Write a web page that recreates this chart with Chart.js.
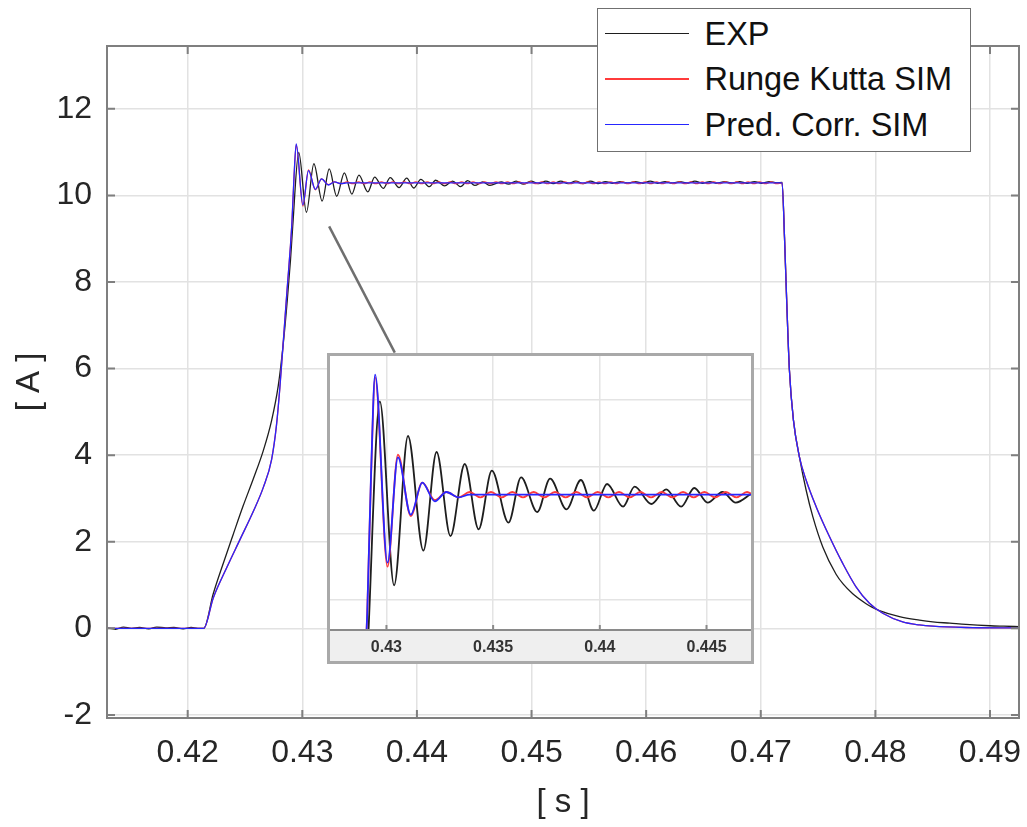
<!DOCTYPE html>
<html>
<head>
<meta charset="utf-8">
<title>Current step response</title>
<script src="https://cdn.jsdelivr.net/npm/chart.js@4.4.1/dist/chart.umd.min.js"></script>
<style>
  body { margin: 0; background: #fff; }
  #wrap { position: relative; width: 1027px; height: 827px; overflow: hidden; }
  #mainChart { position: absolute; left: 0; top: 0; }
  #legend {
    position: absolute; left: 597px; top: 8px; width: 374px; height: 144px;
    box-sizing: border-box; border: 1.5px solid #707070; background: #fff;
    font-family: "Liberation Sans", Arial, Helvetica, sans-serif; font-size: 32.5px; color: #111;
  }
  .row { position: absolute; left: 0; width: 100%; height: 38px; line-height: 38px; }
  .swatch { position: absolute; left: 6.5px; top: 18px; width: 84px; height: 1.5px; }
  .row span { position: absolute; left: 106.5px; top: 0; white-space: nowrap; }
  #inset {
    position: absolute; left: 327px; top: 353px; width: 427px; height: 311px;
    box-sizing: border-box; border: 3px solid #a9a9a9; background: #fff;
  }
  #insetChart { display: block; }
</style>
</head>
<body>
<div id="wrap">
  <canvas id="mainChart" width="1027" height="827"></canvas>
  <div id="legend"></div>
  <div id="inset"><canvas id="insetChart" width="421" height="305"></canvas></div>
</div>
<script>
// measured current, time in s, current in A
const expT = [
  0.41296, 0.4137, 0.4144, 0.4151, 0.4158, 0.4166, 0.4173, 0.4181, 0.4188, 0.4196, 0.4203, 0.4209, 0.4214,
  0.42223, 0.42310, 0.42397, 0.42484, 0.42572, 0.42659, 0.42732, 0.42790, 0.42833, 0.42868, 0.42897, 0.42916,
  0.42969, 0.43036, 0.43101, 0.43173, 0.43235, 0.43300, 0.43367, 0.43432, 0.43494, 0.43572,
  0.43631, 0.43707, 0.43767, 0.43844, 0.43911, 0.43972, 0.44034, 0.44109, 0.44163, 0.44241,
  0.44311, 0.44381, 0.44443, 0.44505, 0.44575, 0.44637,
  0.44735, 0.44800, 0.44865, 0.44930, 0.44995, 0.45060, 0.45125, 0.45190, 0.45255, 0.45320,
  0.45385, 0.45450, 0.45515, 0.45580, 0.45645, 0.45710, 0.45775, 0.45840, 0.45905, 0.45970,
  0.46035, 0.46100, 0.46165, 0.46230, 0.46295, 0.46360, 0.46425, 0.46490, 0.46555, 0.46620,
  0.46685, 0.46750, 0.46815, 0.46880, 0.46945, 0.47010, 0.47075, 0.47140, 0.47186,
  0.47207, 0.47227, 0.47250, 0.47285, 0.47337, 0.47396, 0.47454, 0.47541, 0.47657, 0.47720,
  0.47802, 0.47919, 0.47970, 0.48035, 0.48210, 0.48384, 0.48500, 0.48650, 0.48790, 0.49000,
  0.49120, 0.49253
];
const expI = [
  0.01, -0.02, 0.03, 0.00, 0.02, -0.01, 0.03, 0.01, 0.02, -0.01, 0.02, 0.00, 0.00,
  0.80, 1.50, 2.17, 2.83, 3.45, 4.10, 4.80, 5.60, 6.55, 7.55, 8.51, 9.27,
  10.99, 9.61, 10.73, 9.87, 10.61, 9.98, 10.52, 10.03, 10.47, 10.08,
  10.42, 10.16, 10.41, 10.18, 10.40, 10.17, 10.37, 10.20, 10.35, 10.22,
  10.33, 10.20, 10.34, 10.23, 10.31, 10.23,
  10.31, 10.26, 10.33, 10.26, 10.33, 10.27, 10.33, 10.27, 10.33, 10.27,
  10.33, 10.27, 10.33, 10.27, 10.32, 10.28, 10.32, 10.28, 10.32, 10.28,
  10.33, 10.28, 10.32, 10.28, 10.32, 10.28, 10.33, 10.28, 10.32, 10.28,
  10.32, 10.28, 10.32, 10.28, 10.32, 10.28, 10.32, 10.29, 10.30,
  9.04, 7.50, 5.96, 4.81, 3.96, 3.19, 2.58, 1.88, 1.25, 1.02,
  0.80, 0.57, 0.49, 0.41, 0.27, 0.19, 0.15, 0.12, 0.09, 0.06,
  0.05, 0.04
];

// Runge Kutta simulation
const rkT = [
  0.41296, 0.4214, 0.42223, 0.42340, 0.42456, 0.42572, 0.42659, 0.42732, 0.42775, 0.42804,
  0.42839, 0.42868, 0.42897, 0.42910, 0.42928, 0.42947, 0.43005, 0.43054, 0.43114, 0.43168,
  0.43227, 0.43281, 0.43339,
  0.43390, 0.43440, 0.43490, 0.43540, 0.43590, 0.43640, 0.43690, 0.43740, 0.43790, 0.43840,
  0.43890, 0.43940, 0.43990, 0.44040, 0.44090, 0.44140, 0.44190, 0.44240, 0.44290, 0.44340,
  0.44390, 0.44440, 0.44490, 0.44540, 0.44590, 0.44640, 0.44690, 0.44740, 0.44790, 0.44840,
  0.44890, 0.44940, 0.44990, 0.45040, 0.45090, 0.45140, 0.45190, 0.45240, 0.45290, 0.45340,
  0.45390, 0.45440, 0.45490, 0.45540, 0.45590, 0.45640, 0.45690, 0.45740, 0.45790, 0.45840,
  0.45890, 0.45940, 0.45990, 0.46040, 0.46090, 0.46140, 0.46190, 0.46240, 0.46290, 0.46340,
  0.46390, 0.46440, 0.46490, 0.46540, 0.46590, 0.46640, 0.46690, 0.46740, 0.46790, 0.46840,
  0.46890, 0.46940, 0.46990, 0.47040, 0.47090, 0.47140, 0.47186,
  0.47207, 0.47227, 0.47250, 0.47285, 0.47337, 0.47396, 0.47483, 0.47599, 0.47715, 0.47831,
  0.47948, 0.48064, 0.48238, 0.48384, 0.48500, 0.48790, 0.49253
];
const rkI = [
  0, 0, 0.70, 1.40, 2.05, 2.70, 3.25, 3.90, 4.70, 5.55,
  6.80, 7.85, 8.85, 9.40, 10.43, 11.17, 9.75, 10.59, 10.13, 10.38,
  10.25, 10.31, 10.27,
  10.31, 10.27, 10.31, 10.27, 10.31, 10.27, 10.31, 10.27, 10.31, 10.27,
  10.31, 10.27, 10.31, 10.27, 10.31, 10.27, 10.31, 10.27, 10.31, 10.27,
  10.31, 10.27, 10.31, 10.27, 10.31, 10.27, 10.31, 10.27, 10.31, 10.27,
  10.31, 10.27, 10.31, 10.27, 10.31, 10.27, 10.31, 10.27, 10.31, 10.27,
  10.31, 10.27, 10.31, 10.27, 10.31, 10.27, 10.31, 10.27, 10.31, 10.27,
  10.31, 10.27, 10.31, 10.27, 10.31, 10.27, 10.31, 10.27, 10.31, 10.27,
  10.31, 10.27, 10.31, 10.27, 10.31, 10.27, 10.31, 10.27, 10.31, 10.27,
  10.31, 10.27, 10.31, 10.27, 10.31, 10.27, 10.29,
  9.04, 7.50, 5.96, 4.81, 3.96, 3.42, 2.81, 2.12, 1.50, 0.96,
  0.58, 0.35, 0.15, 0.08, 0.05, 0.02, 0.01
];

// Predictor-corrector simulation
const pcT = [
  0.41296, 0.4214, 0.42223, 0.42340, 0.42456, 0.42572, 0.42659, 0.42732, 0.42775, 0.42804,
  0.42839, 0.42868, 0.42897, 0.42910, 0.42928, 0.42947, 0.43005, 0.43054, 0.43114, 0.43168,
  0.43227, 0.43281, 0.43339, 0.43390, 0.47186,
  0.47207, 0.47227, 0.47250, 0.47285, 0.47337, 0.47396, 0.47483, 0.47599, 0.47715, 0.47831,
  0.47948, 0.48064, 0.48238, 0.48384, 0.48500, 0.48790, 0.49253
];
const pcI = [
  0, 0, 0.70, 1.40, 2.05, 2.70, 3.25, 3.90, 4.70, 5.55,
  6.80, 7.85, 8.85, 9.40, 10.45, 11.19, 9.78, 10.57, 10.14, 10.38,
  10.24, 10.31, 10.27, 10.29, 10.29,
  9.04, 7.50, 5.96, 4.81, 3.96, 3.42, 2.81, 2.12, 1.50, 0.96,
  0.58, 0.35, 0.15, 0.08, 0.05, 0.02, 0.01
];

// pointer from the overshoot to the zoom box
const connT = [0.43234, 0.43807];
const connI = [9.285, 6.37];

const seriesNames = ["EXP", "Runge Kutta SIM", "Pred. Corr. SIM"];
const seriesColors = ["#1e1e1e", "#ff3b3b", "#2626ff"];

const xTicks = [0.42, 0.43, 0.44, 0.45, 0.46, 0.47, 0.48, 0.49];
const yTicks = [-2, 0, 2, 4, 6, 8, 10, 12];
const insetXTicks = [0.43, 0.435, 0.44, 0.445];
const insetYGrid = [9.5, 10, 10.5, 11];

const FONT = "'Liberation Sans', Arial, Helvetica, sans-serif";
Chart.defaults.font.family = FONT;

function pts(t, v) {
  return t.map((x, i) => ({ x: x, y: v[i] }));
}

function makeDatasets(width) {
  const series = [[expT, expI], [rkT, rkI], [pcT, pcI]];
  return series.map((s, i) => ({
    label: seriesNames[i],
    data: pts(s[0], s[1]),
    borderColor: seriesColors[i],
    borderWidth: width,
    pointRadius: 0,
    cubicInterpolationMode: "monotone",
    order: 3 - i
  }));
}

// box and inward tick marks, like the original plot
const axisFrame = {
  id: "axisFrame",
  afterDatasetsDraw(chart) {
    const { ctx, chartArea: a, scales } = chart;
    ctx.save();
    ctx.strokeStyle = "#7f7f7f";
    ctx.lineWidth = 2;
    ctx.strokeRect(a.left, a.top, a.right - a.left, a.bottom - a.top);
    ctx.beginPath();
    xTicks.forEach(v => {
      const px = scales.x.getPixelForValue(v);
      ctx.moveTo(px, a.bottom); ctx.lineTo(px, a.bottom - 8);
      ctx.moveTo(px, a.top); ctx.lineTo(px, a.top + 8);
    });
    yTicks.forEach(v => {
      const py = scales.y.getPixelForValue(v);
      ctx.moveTo(a.left, py); ctx.lineTo(a.left + 8, py);
      ctx.moveTo(a.right, py); ctx.lineTo(a.right - 8, py);
    });
    ctx.stroke();
    ctx.restore();
  }
};

const mainDatasets = makeDatasets(1.3);
mainDatasets.push({
  label: "pointer",
  data: pts(connT, connI),
  borderColor: "#6f6f6f",
  borderWidth: 2.5,
  pointRadius: 0,
  order: 5
});

new Chart(document.getElementById("mainChart"), {
  type: "line",
  data: { datasets: mainDatasets },
  options: {
    responsive: false,
    animation: false,
    layout: { padding: { top: 46, right: 8, bottom: 0, left: 0 } },
    plugins: { legend: { display: false }, tooltip: { enabled: false } },
    scales: {
      x: {
        type: "linear",
        min: 0.41296,
        max: 0.49253,
        afterBuildTicks: s => { s.ticks = xTicks.map(v => ({ value: v })); },
        afterFit: s => { s.height = 109; s.paddingLeft = 0; s.paddingRight = 0; },
        grid: { color: "#e2e2e2", lineWidth: 1.5, drawTicks: false },
        border: { display: false },
        ticks: {
          padding: 16, maxRotation: 0, minRotation: 0, autoSkip: false,
          color: "#262626", font: { size: 32 },
          callback: v => v.toFixed(2)
        },
        title: {
          display: true, text: "[ s ]", color: "#262626",
          font: { size: 33 }, padding: { top: 0, bottom: 4 }
        }
      },
      y: {
        type: "linear",
        min: -2.07,
        max: 13.45,
        afterBuildTicks: s => { s.ticks = yTicks.map(v => ({ value: v })); },
        afterFit: s => { s.width = 107; s.paddingTop = 0; s.paddingBottom = 0; },
        grid: { color: "#e2e2e2", lineWidth: 1.5, drawTicks: false },
        border: { display: false },
        ticks: {
          padding: 15, color: "#262626", font: { size: 32 },
          callback: v => String(v)
        },
        title: {
          display: true, text: "[ A ]", color: "#262626",
          font: { size: 33 }, padding: { top: 10, bottom: 0 }
        }
      }
    }
  },
  plugins: [axisFrame]
});

// legend box
const legend = document.getElementById("legend");
seriesNames.forEach((name, i) => {
  const row = document.createElement("div");
  row.className = "row";
  row.style.top = (5.5 + i * 45.5) + "px";
  const sw = document.createElement("div");
  sw.className = "swatch";
  sw.style.background = seriesColors[i];
  const label = document.createElement("span");
  label.textContent = name;
  row.appendChild(sw);
  row.appendChild(label);
  legend.appendChild(row);
});

// zoomed view of the overshoot
const insetBand = {
  id: "insetBand",
  beforeDraw(chart) {
    const { ctx, chartArea: a } = chart;
    ctx.save();
    ctx.fillStyle = "#efefef";
    ctx.fillRect(a.left, a.bottom, a.right - a.left, chart.height - a.bottom);
    ctx.restore();
  },
  afterDraw(chart) {
    const { ctx, chartArea: a, scales } = chart;
    ctx.save();
    ctx.strokeStyle = "#8a8a8a";
    ctx.lineWidth = 2;
    ctx.beginPath();
    ctx.moveTo(a.left, a.bottom); ctx.lineTo(a.right, a.bottom);
    insetXTicks.forEach(v => {
      const px = scales.x.getPixelForValue(v);
      ctx.moveTo(px, a.bottom); ctx.lineTo(px, a.bottom - 5);
    });
    ctx.stroke();
    ctx.restore();
  }
};

new Chart(document.getElementById("insetChart"), {
  type: "line",
  data: { datasets: makeDatasets(1.8) },
  options: {
    responsive: false,
    animation: false,
    layout: { padding: 0 },
    plugins: { legend: { display: false }, tooltip: { enabled: false } },
    scales: {
      x: {
        type: "linear",
        min: 0.427355,
        max: 0.447085,
        afterBuildTicks: s => { s.ticks = insetXTicks.map(v => ({ value: v })); },
        afterFit: s => { s.height = 31; s.paddingLeft = 0; s.paddingRight = 0; },
        grid: { color: "#e4e4e4", lineWidth: 1.5, drawTicks: false },
        border: { display: false },
        ticks: {
          padding: 8, maxRotation: 0, minRotation: 0, autoSkip: false,
          color: "#333", font: { size: 16, weight: "bold" },
          callback: v => String(v)
        }
      },
      y: {
        type: "linear",
        min: 9.275,
        max: 11.33,
        afterBuildTicks: s => { s.ticks = insetYGrid.map(v => ({ value: v })); },
        afterFit: s => { s.width = 0; s.paddingTop = 0; s.paddingBottom = 0; },
        grid: { color: "#e4e4e4", lineWidth: 1.5, drawTicks: false },
        border: { display: false },
        ticks: { display: false }
      }
    }
  },
  plugins: [insetBand]
});
</script>
</body>
</html>
